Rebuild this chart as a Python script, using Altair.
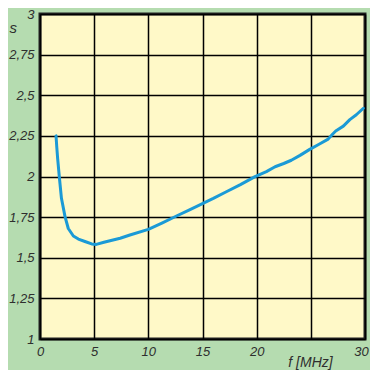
import altair as alt
import pandas as pd

freq = [1.48, 1.55, 1.63, 1.78, 1.98, 2.31, 2.61, 3.08, 3.54, 4.15, 4.77, 5.2, 5.9, 7.4, 8.3,
        10.0, 11.3, 12.6, 13.8, 14.9, 16.0, 17.2, 18.5, 19.85, 20.9, 21.7, 22.5, 23.2, 24.0,
        24.9, 25.8, 26.6, 27.0, 27.3, 28.0, 28.6, 29.2, 29.85]
swr = [2.25, 2.18, 2.11, 2.0, 1.866, 1.753, 1.68, 1.634, 1.615, 1.60, 1.585, 1.582, 1.595, 1.62,
       1.64, 1.675, 1.715, 1.757, 1.795, 1.83, 1.865, 1.906, 1.95, 1.999, 2.03, 2.06, 2.08, 2.10,
       2.13, 2.167, 2.20, 2.23, 2.26, 2.28, 2.31, 2.35, 2.38, 2.42]
x_ticks = [0, 5, 10, 15, 20, 25, 30]
y_ticks = [1, 1.25, 1.5, 1.75, 2, 2.25, 2.5, 2.75, 3]

df = pd.DataFrame({"f": freq, "s": swr})

font = "Liberation Sans"
txt = "#2e2e2e"

chart = alt.Chart(df).mark_line(color="#1b9ad6", strokeWidth=3, strokeCap="round", strokeJoin="round").encode(
    x=alt.X("f:Q", scale=alt.Scale(domain=[0, 30], nice=False),
            axis=alt.Axis(values=x_ticks, title="f [MHz]", grid=True, ticks=False, domain=False,
                          labelPadding=6, labelFontSize=13, labelFont=font, labelFontStyle="italic",
                          labelColor=txt, gridColor="#000000", gridWidth=1.5,
                          labelExpr="datum.value == 25 ? '' : datum.label",
                          labelOffset={"condition": {"test": "datum.value == 30", "value": -4}, "value": 0},
                          titleFont=font, titleFontStyle="italic", titleFontWeight="normal",
                          titleFontSize=14, titleColor=txt, titleX=270, titleY=23,
                          titleAlign="center", titleBaseline="middle",
                          labelFlush=False)),
    y=alt.Y("s:Q", scale=alt.Scale(domain=[1, 3], nice=False),
            axis=alt.Axis(values=y_ticks, title="s", grid=True, ticks=False, domain=False,
                          labelPadding=6, labelFontSize=13, labelFont=font, labelFontStyle="italic",
                          labelColor=txt, gridColor="#000000", gridWidth=1.5,
                          labelExpr="replace(toString(datum.value), '.', ',')",
                          titleFont=font, titleFontStyle="italic", titleFontWeight="normal",
                          titleFontSize=15, titleColor=txt, titleAngle=0, titleX=-31, titleY=13,
                          titleAlign="left", titleBaseline="middle",
                          labelFlush=False)),
).properties(
    width=325, height=325,
    background="#b5dcb0",
    padding={"left": 32, "top": 6, "right": 5, "bottom": 31},
    autosize=alt.AutoSizeParams(type="none"),
).configure_view(
    fill="#fff9c8", stroke="#222222", strokeWidth=3
)

chart.save("out.html", embed_options={"renderer": "svg", "actions": False})
